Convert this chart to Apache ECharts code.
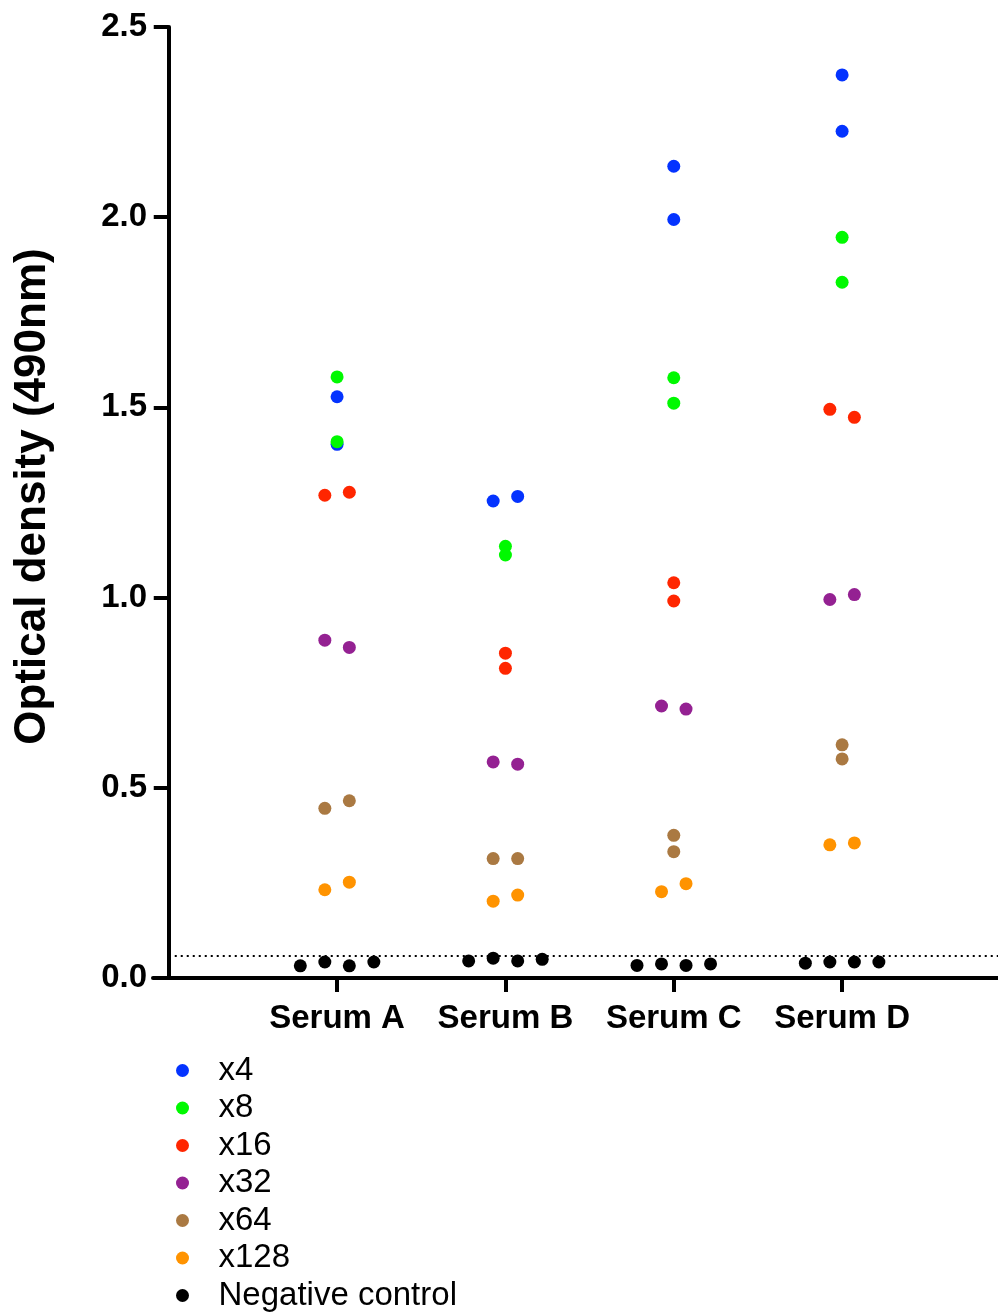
<!DOCTYPE html>
<html>
<head>
<meta charset="utf-8">
<script src="https://cdn.jsdelivr.net/npm/echarts@6/dist/echarts.min.js"></script>
<style>
html,body{margin:0;padding:0;background:#fff;}
#chart{width:998px;height:1313px;}
</style>
</head>
<body>
<div id="chart"></div>
<script>
// ---- Data ----
const categories = ['Serum A', 'Serum B', 'Serum C', 'Serum D'];
const yTicks = [0, 0.5, 1.0, 1.5, 2.0, 2.5];
const seriesNames = ['x4', 'x8', 'x16', 'x32', 'x64', 'x128', 'Negative control'];
const seriesColors = ['#0433FF', '#00F900', '#FF2600', '#942192', '#AA7942', '#FF9300', '#000000'];

// values per serum (A, B, C, D)
const x4 = [[1.528, 1.403], [1.254, 1.266], [2.134, 1.994], [2.374, 2.226]];
const x8 = [[1.580, 1.410], [1.135, 1.112], [1.578, 1.511], [1.947, 1.829]];
const x16 = [[1.269, 1.277], [0.854, 0.814], [1.039, 0.991], [1.495, 1.474]];
const x32 = [[0.888, 0.869], [0.568, 0.562], [0.715, 0.707], [0.995, 1.008]];
const x64 = [[0.446, 0.466], [0.314, 0.314], [0.375, 0.332], [0.613, 0.576]];
const x128 = [[0.232, 0.252], [0.202, 0.218], [0.227, 0.248], [0.350, 0.355]];
const negControl = [[0.032, 0.042, 0.032, 0.042], [0.045, 0.052, 0.045, 0.049], [0.033, 0.037, 0.033, 0.037], [0.039, 0.042, 0.042, 0.042]];
const cutoff = 0.058;

// horizontal scatter slot of each point (same shape as values)
const x4Slots = [[0, 0], [-1, 1], [0, 0], [0, 0]];
const x8Slots = [[0, 0], [0, 0], [0, 0], [0, 0]];
const x16Slots = [[-1, 1], [0, 0], [0, 0], [-1, 1]];
const x32Slots = [[-1, 1], [-1, 1], [-1, 1], [-1, 1]];
const x64Slots = [[-1, 1], [-1, 1], [0, 0], [0, 0]];
const x128Slots = [[-1, 1], [-1, 1], [-1, 1], [-1, 1]];
const negSlots = [[-3, -1, 1, 3], [-3, -1, 1, 3], [-3, -1, 1, 3], [-3, -1, 1, 3]];

const allValues = [x4, x8, x16, x32, x64, x128, negControl];
const allSlots = [x4Slots, x8Slots, x16Slots, x32Slots, x64Slots, x128Slots, negSlots];

// ---- Build ----
const SLOT = 0.0728;
const FONT = 'Liberation Sans, Arial, Helvetica, sans-serif';

function buildPoints(vals, slots) {
  const pts = [];
  vals.forEach((group, ci) => {
    group.forEach((v, j) => {
      pts.push([ci + 1 + slots[ci][j] * SLOT, v]);
    });
  });
  return pts;
}

const series = seriesNames.map((name, i) => {
  const s = {
    name: name,
    type: 'scatter',
    symbol: 'circle',
    symbolSize: 13,
    itemStyle: { color: seriesColors[i], opacity: 1 },
    data: buildPoints(allValues[i], allSlots[i]),
    z: 3 + i
  };
  if (i === seriesNames.length - 1) {
    s.markLine = {
      silent: true,
      symbol: 'none',
      label: { show: false },
      lineStyle: { type: [2, 4], color: '#000', width: 2 },
      data: [[{ coord: [0, cutoff] }, { coord: [4.926, cutoff] }]]
    };
  }
  return s;
});

const chart = echarts.init(document.getElementById('chart'), null, { renderer: 'canvas' });
chart.setOption({
  animation: false,
  backgroundColor: '#fff',
  textStyle: { fontFamily: FONT },
  grid: { left: 153, right: 0, top: 27, bottom: 335, containLabel: false, outerBoundsMode: 'none' },
  xAxis: {
    type: 'value',
    min: -0.0935,
    max: 4.926,
    splitLine: { show: false },
    axisLine: { onZero: false, lineStyle: { color: '#000', width: 4 } },
    axisTick: { show: true, customValues: [1, 2, 3, 4], length: 14, lineStyle: { color: '#000', width: 4 } },
    axisLabel: {
      customValues: [1, 2, 3, 4],
      formatter: v => categories[Math.round(v) - 1] || '',
      color: '#000', fontSize: 33, fontWeight: 'bold', fontFamily: FONT, margin: 24
    }
  },
  yAxis: {
    type: 'value',
    min: 0,
    max: 2.5,
    interval: 0.5,
    name: 'Optical density (490nm)',
    nameLocation: 'middle',
    nameGap: 98,
    nameMoveOverlap: false,
    nameTextStyle: { color: '#000', fontSize: 44, fontWeight: 'bold', fontFamily: FONT, padding: [0, 0, 0, 12] },
    splitLine: { show: false },
    axisLine: { onZero: true, lineStyle: { color: '#000', width: 4 } },
    axisTick: { show: true, length: 15, lineStyle: { color: '#000', width: 4 } },
    axisLabel: {
      customValues: yTicks,
      formatter: v => v.toFixed(1),
      color: '#000', fontSize: 33, fontWeight: 'bold', fontFamily: FONT, margin: 6
    }
  },
  legend: {
    orient: 'vertical',
    left: 176,
    top: 1054,
    padding: 0,
    itemGap: 4.5,
    itemWidth: 62,
    itemHeight: 13,
    icon: 'circle',
    data: seriesNames,
    textStyle: { color: '#000', fontSize: 33, lineHeight: 33, fontFamily: FONT }
  },
  series: series
});
</script>
</body>
</html>
